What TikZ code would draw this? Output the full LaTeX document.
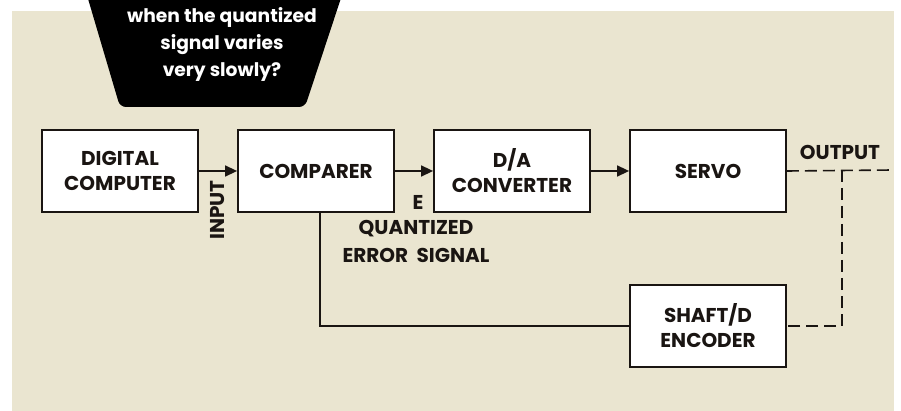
\documentclass[tikz,border=0pt]{standalone}
\usepackage{fontspec}
\setmainfont{Poppins}
\usetikzlibrary{positioning, arrows.meta}

\definecolor{paper}{HTML}{EAE5D0}
\definecolor{ink}{HTML}{1A1512}

\tikzset{
  block/.style={draw=ink, line width=1.8pt, fill=white, minimum width=156pt, minimum height=82pt,
    align=center, text=ink, font=\bfseries\fontsize{20}{25}\selectfont},
  tag/.style={text=ink, align=center, font=\bfseries\fontsize{20}{28}\selectfont},
  link/.style={draw=ink, line width=1.5pt, -{Triangle[length=12pt,width=11pt]}},
  back/.style={draw=ink, line width=1.5pt},
  sense/.style={draw=ink, line width=1.6pt, dash pattern=on 12pt off 6pt},
}

\begin{document}
\begin{tikzpicture}[x=1pt, y=-1pt]
\useasboundingbox (0,0) rectangle (901,411);
\fill[paper] (12,11) rectangle (894,411);

% question balloon at the top
\fill[black, rounded corners=6pt] (86,-8) -- (120,107) -- (305,107) -- (343,-8) -- cycle;
\node[text=white, align=center, font=\bfseries\fontsize{18.7}{27}\selectfont] (quest) at (222,44)
  {when the quantized\\signal varies\\very slowly?};

% the loop
\node[block] (computer) at (120,171) {DIGITAL\\COMPUTER};
\node[block] (comparer) at (316,171) {COMPARER};
\node[block] (dac) at (512,171) {D/A\\CONVERTER};
\node[block] (servo) at (708,171) {SERVO};
\node[block] (encoder) at (708,326) {SHAFT/D\\ENCODER};

\draw[link] (computer) -- (comparer);
\draw[link] (comparer) -- (dac);
\draw[link] (dac) -- (servo);

\coordinate (out) at (893,170);
\coordinate (tap) at (842,170);
\draw[sense] (servo.east) -- (out);
\draw[sense] (tap) |- (encoder.east);
\draw[back] (encoder.west) -| ([xshift=4pt]comparer.south);

\node[tag, rotate=90] (input) at (218,210) {INPUT};
\node[tag] (err) at (418,202) {E};
\node[tag] (quant) at (416,241) {QUANTIZED\\ERROR\ \ SIGNAL};
\node[tag] (output) at (840,152) {OUTPUT};
\end{tikzpicture}
\end{document}
